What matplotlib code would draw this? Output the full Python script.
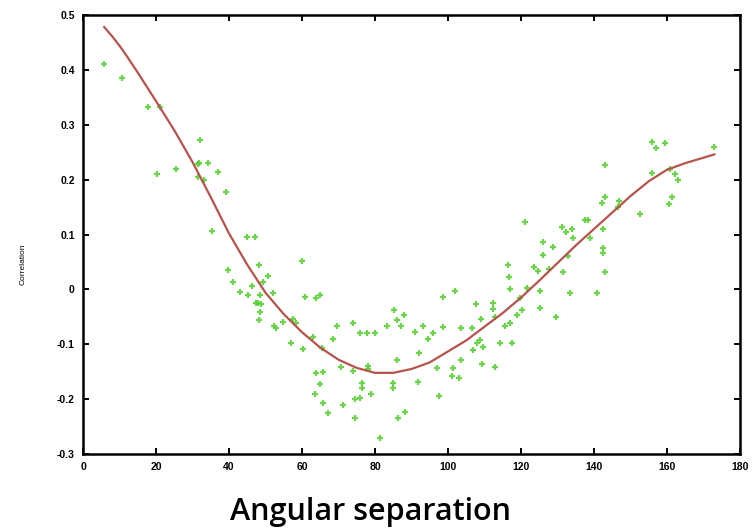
import matplotlib
matplotlib.use("Agg")
import matplotlib.pyplot as plt

# scatter points (angular separation, correlation)
sep = [5.75, 10.7, 17.7, 21, 20.2, 25.6, 32, 31.4, 31.9, 34.3, 31.6, 33.2, 37.1, 39.3,
       35.3, 39.8, 41.2, 43, 45.3, 46.2, 44.8, 47.1, 47.5, 60, 48.2, 50.7, 49.3, 48.5,
       52, 48, 48.8, 48.5, 48.2, 60.8, 63.8, 64.9, 52.3, 53, 57.5, 58.4, 69.5, 63,
       68.5, 57, 60.3, 65.5, 54.8, 74, 75.9, 77.7, 80, 83.3, 85.3, 86, 88, 87, 91,
       93.2, 94.6, 96, 98.6, 98.6, 102, 103.6, 106.6, 107.7, 92, 86, 78, 78, 74, 70.7,
       63.8, 65.8, 65, 63.6, 65.7, 67.2, 71.2, 74.5, 74.5, 75.9, 76.4, 76.4, 78.9,
       81.4, 84.9, 84.9, 88.2, 86.3, 91.8, 97.5, 97, 101.4, 101, 103, 103.6, 106.8,
       108, 121, 112.3, 112.3, 109, 112.9, 108.8, 109.6, 109.3, 112.9, 114.2, 117.5,
       115.6, 117, 118.9, 120.3, 119.7, 121.6, 117, 116.7, 116.4, 123.6, 124.7, 125.2,
       125.2, 129.6, 127.7, 126, 126, 128.8, 131.5, 132.9, 133.4, 140.8, 131.2, 132.3,
       134, 134.2, 137.5, 138.5, 139, 142.5, 142.5, 142.5, 143, 142.2, 143, 143, 156,
       157, 159.5, 173, 156, 160.8, 162.2, 163, 161.4, 160.5, 152.6, 147, 146.6]
corr = [0.41, 0.386, 0.332, 0.332, 0.21, 0.219, 0.273, 0.229, 0.231, 0.231, 0.205, 0.2,
        0.214, 0.177, 0.107, 0.035, 0.013, -0.005, -0.011, 0.007, 0.095, 0.095, -0.024,
        0.051, 0.044, 0.024, 0.013, -0.011, -0.007, -0.025, -0.027, -0.042, -0.056,
        -0.014, -0.016, -0.011, -0.066, -0.071, -0.053, -0.062, -0.067, -0.087, -0.09,
        -0.098, -0.108, -0.107, -0.06, -0.062, -0.08, -0.08, -0.08, -0.066, -0.037,
        -0.055, -0.047, -0.067, -0.078, -0.067, -0.091, -0.08, -0.069, -0.014, -0.003,
        -0.071, -0.071, -0.026, -0.115, -0.128, -0.139, -0.145, -0.149, -0.142, -0.153,
        -0.15, -0.172, -0.191, -0.207, -0.226, -0.21, -0.235, -0.199, -0.197, -0.171,
        -0.18, -0.19, -0.27, -0.17, -0.179, -0.224, -0.235, -0.168, -0.195, -0.144,
        -0.144, -0.157, -0.162, -0.128, -0.111, -0.098, 0.122, -0.024, -0.035, -0.053,
        -0.051, -0.093, -0.105, -0.135, -0.142, -0.098, -0.098, -0.067, -0.062, -0.046,
        -0.038, -0.016, 0.002, 0.0, 0.022, 0.044, 0.04, 0.033, -0.002, -0.033, -0.051,
        0.038, 0.062, 0.086, 0.078, 0.031, 0.06, -0.007, -0.007, 0.113, 0.104, 0.111,
        0.093, 0.126, 0.126, 0.093, 0.111, 0.075, 0.066, 0.031, 0.158, 0.168, 0.226,
        0.268, 0.257, 0.266, 0.259, 0.213, 0.22, 0.21, 0.2, 0.168, 0.155, 0.137, 0.162,
        0.15]

# fitted curve, read at steps along x
fit_x = [5.8, 8, 10, 12, 15, 20, 25, 30, 35, 40, 45, 50, 55, 60, 65, 70, 75, 80, 85, 90,
         95, 100, 105, 110, 115, 120, 125, 130, 135, 140, 145, 150, 155, 160, 165, 170, 173]
fit_y = [0.478, 0.461, 0.444, 0.425, 0.395, 0.343, 0.29, 0.232, 0.168, 0.102, 0.045,
         -0.006, -0.045, -0.078, -0.106, -0.128, -0.143, -0.152, -0.152, -0.145, -0.133,
         -0.113, -0.093, -0.068, -0.043, -0.015, 0.016, 0.048, 0.08, 0.11, 0.14, 0.17,
         0.197, 0.218, 0.23, 0.24, 0.246]

xticks = [0, 20, 40, 60, 80, 100, 120, 140, 160, 180]
yticks = [-0.3, -0.2, -0.1, 0, 0.1, 0.2, 0.3, 0.4, 0.5]
ytick_labels = ["-0.3", "-0.2", "-0.1", "0", "0.1", "0.2", "0.3", "0.4", "0.5"]

plt.rcParams['font.family'] = ['Liberation Sans', 'DejaVu Sans']

fig = plt.figure(figsize=(7.55, 5.28), dpi=100)
ax = fig.add_axes([0.110, 0.140, 0.870, 0.8316])

ax.plot(sep, corr, linestyle='none', marker='+', markersize=5, mew=1.6,
        color='#5ccf3a', alpha=0.9)
ax.plot(fit_x, fit_y, color='#b5544c', lw=1.6, solid_joinstyle='round')

ax.set_xlim(0, 180)
ax.set_ylim(-0.3, 0.5)
ax.set_xticks(xticks)
ax.set_xticklabels([str(t) for t in xticks], fontweight='bold', fontsize=7.5)
ax.set_yticks(yticks)
ax.set_yticklabels(ytick_labels, fontweight='bold', fontsize=7.5)
ax.tick_params(direction='in', top=True, right=True, length=4, width=1.4,
               labeltop=False, labelright=False, pad=6)
for s in ax.spines.values():
    s.set_linewidth(1.8)

fig.text(0.03, 0.5, "Correlation", rotation=90, fontsize=6, va='center', ha='center')
fig.text(370 / 755, 1 - 512 / 528, "Angular separation", fontsize=22,
         family=['Open Sans', 'DejaVu Sans'], fontweight='semibold',
         ha='center', va='center')

fig.savefig("out.png", dpi=100)
